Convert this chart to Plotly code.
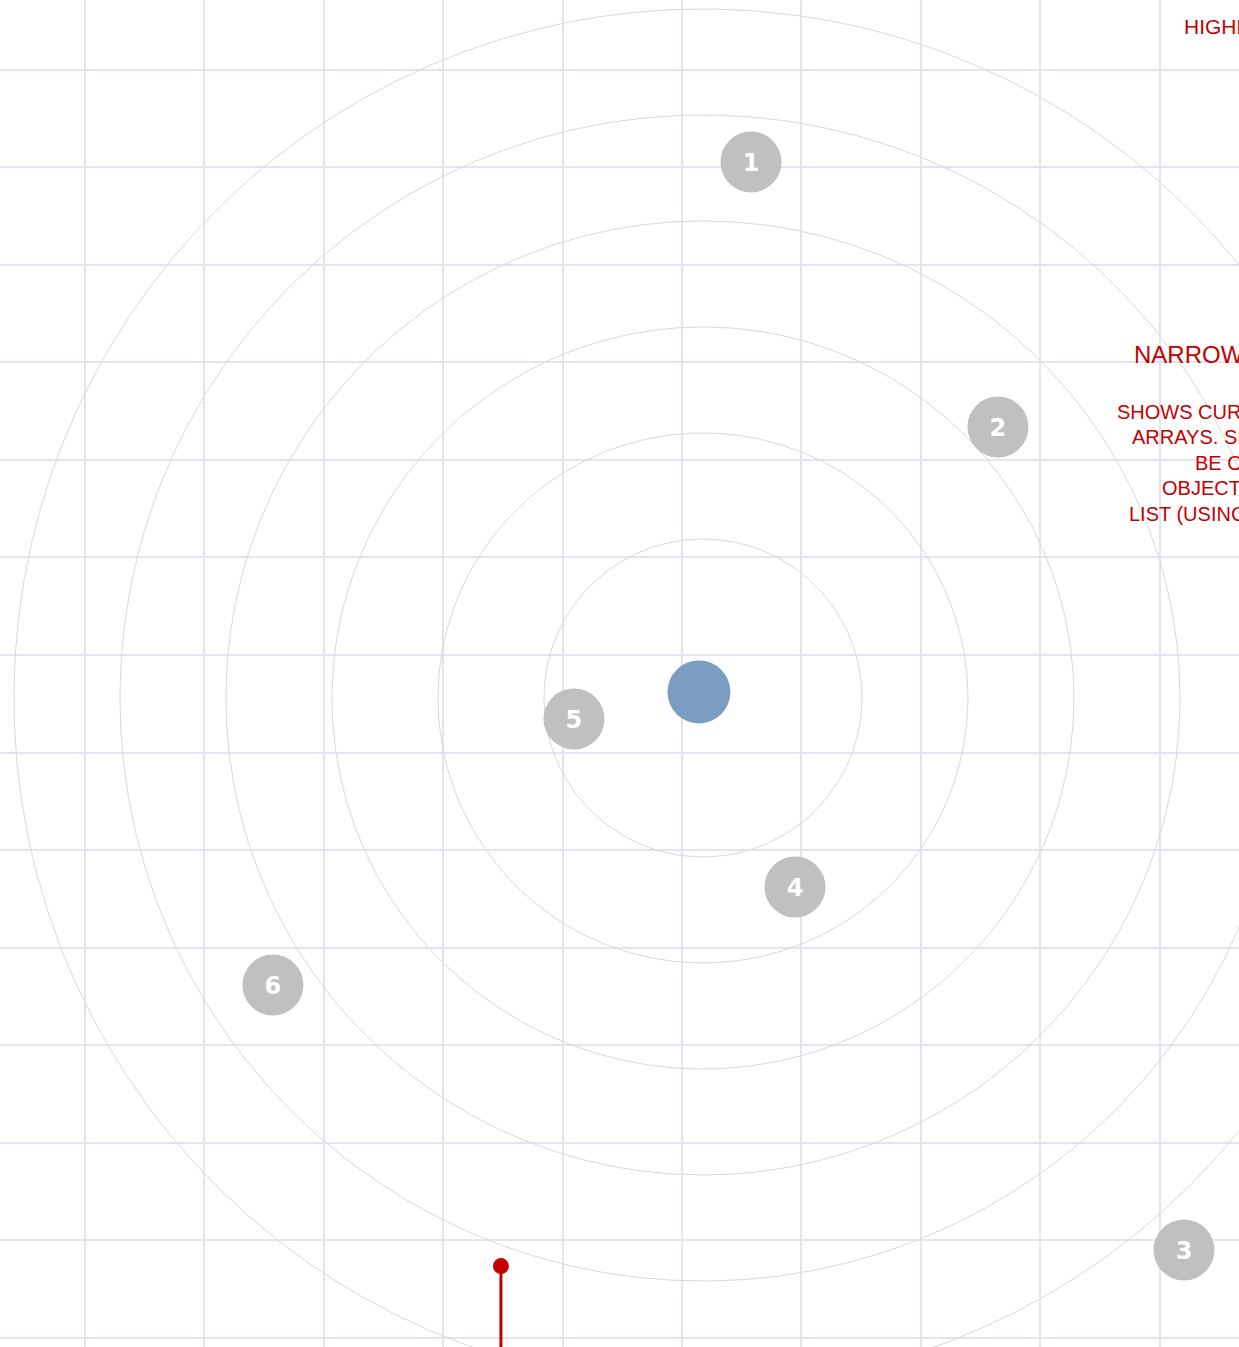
import numpy as np
import plotly.graph_objects as go

# ---- data ----
ring_radii = [1.5, 2.5, 3.5, 4.5, 5.5, 6.5]
body_labels = ["1", "2", "3", "4", "5", "6"]
body_x = [0.453, 2.783, 4.538, 0.868, -1.217, -4.057]
body_y = [5.057, 2.557, -5.208, -1.783, -0.198, -2.708]
center_x = [-0.038]
center_y = [0.057]
pin_x = [-1.906]
pin_top = [-5.36]
pin_bottom = [-6.4]
ring_cx, ring_cy = 0.0, 0.0

grid_x = list(range(-5, 5))
grid_y = list(range(-7, 7))

fig = go.Figure()

# grid holder trace (invisible) on base axes
fig.add_trace(go.Scatter(x=[grid_x[0]], y=[grid_y[0]], mode="markers",
                         marker=dict(opacity=0), hoverinfo="skip",
                         showlegend=False, xaxis="x", yaxis="y"))

# rings
t = np.linspace(0, 2 * np.pi, 721)
rx, ry = [], []
for r in ring_radii:
    rx += list(ring_cx + r * np.cos(t)) + [None]
    ry += list(ring_cy + r * np.sin(t)) + [None]
fig.add_trace(go.Scatter(x=rx, y=ry, mode="lines",
                         line=dict(color="#d9d9dc", width=1),
                         hoverinfo="skip", showlegend=False,
                         xaxis="x2", yaxis="y2"))

# pin
fig.add_trace(go.Scatter(x=pin_x * 2, y=pin_top + pin_bottom, mode="lines",
                         line=dict(color="#c40000", width=3),
                         showlegend=False, xaxis="x2", yaxis="y2"))
fig.add_trace(go.Scatter(x=pin_x, y=pin_top, mode="markers",
                         marker=dict(color="#c40000", size=16),
                         showlegend=False, xaxis="x2", yaxis="y2"))

# center body
fig.add_trace(go.Scatter(x=center_x, y=center_y, mode="markers",
                         marker=dict(color="#7b9cc3", size=63),
                         showlegend=False, xaxis="x2", yaxis="y2"))

# numbered bodies
fig.add_trace(go.Scatter(x=body_x, y=body_y, mode="markers",
                         marker=dict(color="#c0c0c0", size=61),
                         showlegend=False, xaxis="x2", yaxis="y2"))
fig.add_trace(go.Scatter(x=body_x, y=[v - 0.025 for v in body_y], mode="text",
                         text=body_labels, textposition="middle center",
                         textfont=dict(color="white", size=24,
                                       family="DejaVu Sans", weight="bold"),
                         showlegend=False, xaxis="x2", yaxis="y2"))

W, H = 1239, 1347
red = "#c40000"
fnt = "Liberation Sans, Arial, sans-serif"

def ann(text, px, py, size):
    return dict(text=text, xref="paper", yref="paper", x=px / W, y=1 - py / H,
                xanchor="left", yanchor="middle", showarrow=False,
                font=dict(color=red, size=size, family=fnt))

annotations = [
    ann("HIGHLIGHTS", 1182, 27, 21),
    ann("NARROW SCREEN", 1132, 354, 24),
    ann("SHOWS CURRENT", 1115, 412, 20),
    ann("ARRAYS. SIZES", 1130, 437, 20),
    ann("BE ON", 1193, 463, 20),
    ann("OBJECTS", 1160, 488, 20),
    ann("LIST (USING", 1127, 514, 20),
]

grid_color = "#e4e4f0"
fig.update_layout(
    width=W, height=H, margin=dict(l=0, r=0, t=0, b=0),
    template="none", paper_bgcolor="white", plot_bgcolor="white",
    showlegend=False,
    xaxis=dict(range=[-5.710, 4.663], tickvals=grid_x, showticklabels=False,
               showgrid=True, gridcolor=grid_color, gridwidth=2,
               zeroline=False, showline=False, ticks="", fixedrange=True),
    yaxis=dict(range=[-7.095, 6.715], tickvals=grid_y, showticklabels=False,
               showgrid=True, gridcolor=grid_color, gridwidth=2,
               zeroline=False, showline=False, ticks="", fixedrange=True),
    xaxis2=dict(range=[-6.632, 5.057], overlaying="x", visible=False,
                showgrid=False, zeroline=False),
    yaxis2=dict(range=[-6.123, 6.585], overlaying="y", visible=False,
                showgrid=False, zeroline=False),
    annotations=annotations,
)

fig.write_html("out.html", config={"displayModeBar": False},
               post_script="document.body.style.margin='0';document.body.style.overflow='hidden';")
